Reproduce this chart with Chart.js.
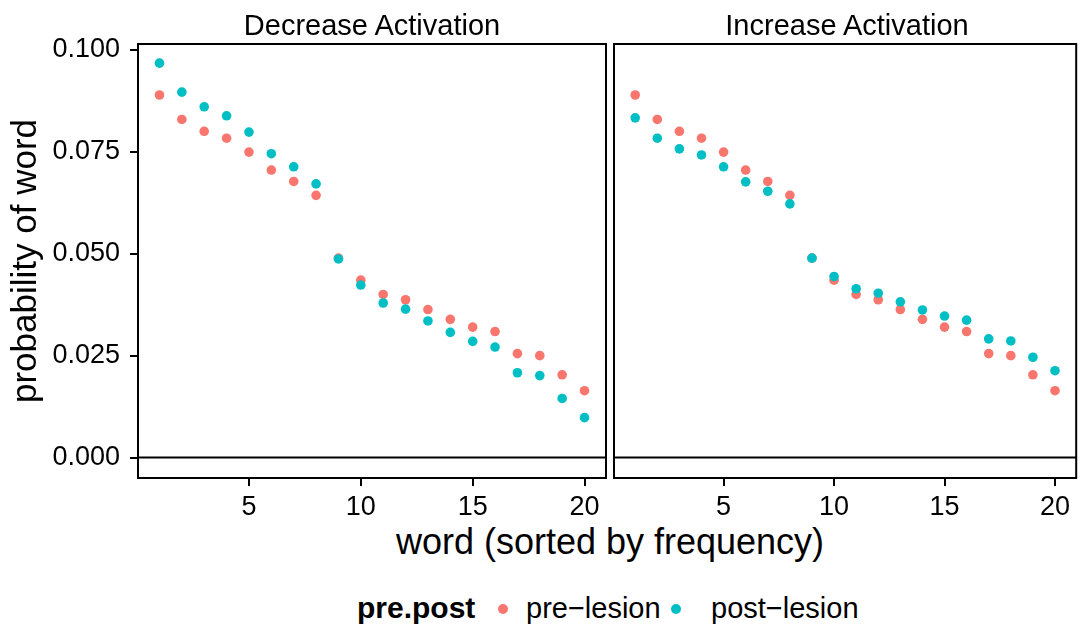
<!DOCTYPE html>
<html>
<head>
<meta charset="utf-8">
<script src="https://cdn.jsdelivr.net/npm/chart.js@4/dist/chart.umd.min.js"></script>
<style>
  body { margin: 0; background: #fff; font-family: 'Liberation Sans', Arial, sans-serif; }
  #wrap { position: relative; width: 1081px; height: 627px; overflow: hidden; }
  canvas { position: absolute; top: 0; }
  .txt { position: absolute; color: #000; white-space: nowrap; line-height: 1; }
  .strip { font-size: 29px; transform: translate(-50%, -50%); top: 25px; }
  .dot { position: absolute; width: 10px; height: 10px; border-radius: 50%; transform: translate(-50%, -50%); top: 609px; }
</style>
</head>
<body>
<div id="wrap">
  <canvas id="left" width="612" height="520" style="left:0"></canvas>
  <canvas id="right" width="473" height="520" style="left:608px"></canvas>
  <div class="txt strip" style="left:372px">Decrease Activation</div>
  <div class="txt strip" style="left:847px">Increase Activation</div>
  <div class="txt" style="left:610px; top:542px; font-size:36px; transform:translate(-50%,-50%)">word (sorted by frequency)</div>
  <div class="txt" style="left:357px; top:608px; font-size:30px; font-weight:bold; transform:translateY(-50%)">pre.post</div>
  <div class="dot" style="left:503px; background:#F8766D"></div>
  <div class="txt" style="left:526px; top:608px; font-size:29px; transform:translateY(-50%)">pre−lesion</div>
  <div class="dot" style="left:676px; background:#00BFC4"></div>
  <div class="txt" style="left:711px; top:608px; font-size:29px; transform:translateY(-50%)">post−lesion</div>
</div>
<script>
var words = [1, 2, 3, 4, 5, 6, 7, 8, 9, 10, 11, 12, 13, 14, 15, 16, 17, 18, 19, 20];
var decreasePre = [0.0889, 0.0829, 0.0800, 0.0783, 0.0749, 0.0705, 0.0677, 0.0643, 0.0489, 0.0435,
                   0.0400, 0.0387, 0.0363, 0.0339, 0.0320, 0.0309, 0.0255, 0.0250, 0.0203, 0.0164];
var decreasePost = [0.0967, 0.0896, 0.0860, 0.0838, 0.0798, 0.0745, 0.0713, 0.0671, 0.0487, 0.0423,
                    0.0379, 0.0364, 0.0335, 0.0307, 0.0285, 0.0271, 0.0208, 0.0201, 0.0145, 0.0098];
var increasePre = [0.0889, 0.0829, 0.0800, 0.0783, 0.0749, 0.0705, 0.0677, 0.0643, 0.0489, 0.0435,
                   0.0400, 0.0387, 0.0363, 0.0339, 0.0320, 0.0309, 0.0255, 0.0250, 0.0203, 0.0164];
var increasePost = [0.0833, 0.0783, 0.0757, 0.0742, 0.0713, 0.0676, 0.0653, 0.0622, 0.0489, 0.0444,
                    0.0414, 0.0403, 0.0382, 0.0362, 0.0347, 0.0337, 0.0291, 0.0286, 0.0246, 0.0213];
var xTicks = [5, 10, 15, 20];
var yTicks = [0, 0.025, 0.05, 0.075, 0.1];

var FONT = "'Liberation Sans', Arial, sans-serif";

// panel box and the zero line
var panelPlugin = {
    id: 'panel',
    afterDatasetsDraw: function (chart) {
        var a = chart.chartArea, c = chart.ctx;
        var y0 = chart.scales.y.getPixelForValue(0);
        c.save();
        c.strokeStyle = '#000';
        c.lineWidth = 2;
        c.beginPath();
        c.moveTo(a.left, y0);
        c.lineTo(a.right, y0);
        c.stroke();
        c.strokeRect(a.left, a.top, a.right - a.left, a.bottom - a.top);
        c.restore();
    }
};

function toPoints(values) {
    return words.map(function (w, i) { return {x: w, y: values[i]}; });
}

function makeChart(id, pre, post, showY, padding) {
    return new Chart(document.getElementById(id), {
        type: 'scatter',
        data: {
            datasets: [
                {label: 'post-lesion', data: toPoints(post), backgroundColor: '#00BFC4', pointRadius: 4.8, borderWidth: 0},
                {label: 'pre-lesion', data: toPoints(pre), backgroundColor: '#F8766D', pointRadius: 4.8, borderWidth: 0}
            ]
        },
        options: {
            responsive: false,
            animation: false,
            devicePixelRatio: 1,
            layout: {padding: padding},
            plugins: {legend: {display: false}, tooltip: {enabled: false}},
            scales: {
                x: {
                    type: 'linear',
                    min: 0.04,
                    max: 20.96,
                    afterBuildTicks: function (s) { s.ticks = xTicks.map(function (v) { return {value: v}; }); },
                    afterFit: function (s) { s.height = 42; },
                    grid: {drawOnChartArea: false, tickLength: 8, tickColor: '#000', lineWidth: 2},
                    border: {display: false},
                    ticks: {color: '#000', padding: 5, maxRotation: 0, font: {family: FONT, size: 27}}
                },
                y: {
                    display: showY,
                    min: -0.005,
                    max: 0.1014,
                    afterBuildTicks: function (s) { s.ticks = yTicks.map(function (v) { return {value: v}; }); },
                    afterFit: function (s) { s.width = showY ? 138 : 0; },
                    grid: {drawOnChartArea: false, tickLength: 8, tickColor: '#000', lineWidth: 2},
                    border: {display: false},
                    ticks: {
                        color: '#000', padding: 10, font: {family: FONT, size: 27},
                        callback: function (v) { return v.toFixed(3); }
                    },
                    title: {
                        display: true, text: 'probability of word', color: '#000',
                        padding: {top: 5, bottom: 0}, font: {family: FONT, size: 35}
                    }
                }
            }
        },
        plugins: [panelPlugin]
    });
}

makeChart('left', decreasePre, decreasePost, true, {top: 44, right: 6, left: 0, bottom: 0});
makeChart('right', increasePre, increasePost, false, {top: 44, right: 1, left: 6, bottom: 0});
</script>
</body>
</html>
